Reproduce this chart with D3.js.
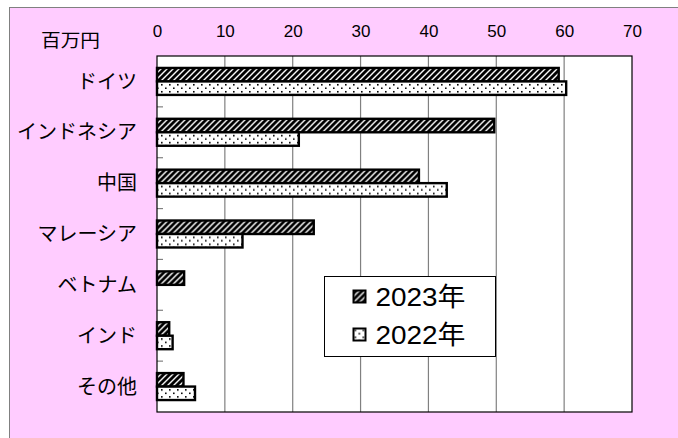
<!DOCTYPE html>
<html>
<head>
<meta charset="utf-8">
<script src="https://cdn.jsdelivr.net/npm/d3@7"></script>
<style>
  body { margin: 0; background: #fff; }
  svg { display: block; }
</style>
</head>
<body>
<div id="chart"></div>
<script>
const categories = ['ドイツ', 'インドネシア', '中国', 'マレーシア', 'ベトナム', 'インド', 'その他'];
const series = ['2023年', '2022年'];
const values2023 = [59.2, 49.7, 38.6, 23.1, 4.0, 1.8, 3.9];
const values2022 = [60.3, 20.9, 42.7, 12.6, 0, 2.3, 5.6];
const xTicks = [0, 10, 20, 30, 40, 50, 60, 70];
const unitLabel = '百万円';

const width = 678, height = 438;
const plot = { left: 157, top: 56, right: 632, bottom: 412 };
const latin = "'Liberation Sans', Arial, 'Noto Sans CJK JP', sans-serif";
const jp = "'Noto Sans CJK JP', sans-serif";

const data = categories.map((c, i) => ({ cat: c, vals: [values2023[i], values2022[i]] }));

const svg = d3.select('#chart').append('svg')
  .attr('width', width).attr('height', height);

// patterns
const defs = svg.append('defs');
const hatch = defs.append('pattern')
  .attr('id', 'hatch').attr('patternUnits', 'userSpaceOnUse')
  .attr('width', 6).attr('height', 6);
hatch.append('rect').attr('width', 6).attr('height', 6).attr('fill', '#000');
hatch.append('path')
  .attr('d', 'M-1,7 L7,-1 M-4,4 L4,-4 M2,10 L10,2')
  .attr('stroke', '#fff').attr('stroke-width', 1.4);

const dots = defs.append('pattern')
  .attr('id', 'dots').attr('patternUnits', 'userSpaceOnUse')
  .attr('width', 8).attr('height', 7);
dots.append('rect').attr('width', 8).attr('height', 7).attr('fill', '#fff');
dots.append('rect').attr('x', 1).attr('y', 2).attr('width', 1.6).attr('height', 1.6).attr('fill', '#000');
dots.append('rect').attr('x', 5).attr('y', 5.5).attr('width', 1.6).attr('height', 1.6).attr('fill', '#000');

const fills = ['url(#hatch)', 'url(#dots)'];

// background panel
svg.append('rect')
  .attr('x', 9.5).attr('y', 7.5)
  .attr('width', width).attr('height', height)
  .attr('fill', '#ffccff').attr('stroke', '#808080').attr('stroke-width', 1);

// scales
const x = d3.scaleLinear().domain([0, 70]).range([plot.left, plot.right]);
const y0 = d3.scaleBand().domain(categories).range([plot.top, plot.bottom])
  .paddingInner(0.47).paddingOuter(0.235);
const y1 = d3.scaleBand().domain(series).range([0, y0.bandwidth()]);

// plot area
svg.append('rect')
  .attr('x', plot.left).attr('y', plot.top)
  .attr('width', plot.right - plot.left).attr('height', plot.bottom - plot.top)
  .attr('fill', '#fff');

// grid lines
svg.append('g').selectAll('line')
  .data(xTicks.slice(1, -1))
  .join('line')
  .attr('x1', d => x(d)).attr('x2', d => x(d))
  .attr('y1', plot.top).attr('y2', plot.bottom)
  .attr('stroke', '#808080').attr('stroke-width', 1.2);

// category boundary ticks
const step = (plot.bottom - plot.top) / categories.length;
svg.append('g').selectAll('line')
  .data(d3.range(1, categories.length))
  .join('line')
  .attr('x1', plot.left).attr('x2', plot.left + 6)
  .attr('y1', i => plot.top + i * step).attr('y2', i => plot.top + i * step)
  .attr('stroke', '#808080').attr('stroke-width', 1.2);

// plot border
svg.append('rect')
  .attr('x', plot.left).attr('y', plot.top)
  .attr('width', plot.right - plot.left).attr('height', plot.bottom - plot.top)
  .attr('fill', 'none').attr('stroke', '#000').attr('stroke-width', 1.2);

// x axis on top
const xAxis = d3.axisTop(x).tickValues(xTicks).tickSize(0).tickPadding(0);
const gx = svg.append('g')
  .attr('transform', `translate(0, 37)`)
  .call(xAxis);
gx.select('.domain').remove();
gx.selectAll('text')
  .attr('dy', 0)
  .style('font-family', latin).style('font-size', '17px').attr('fill', '#000');

// y axis labels
const yAxis = d3.axisLeft(y0).tickSize(0).tickPadding(0);
const gy = svg.append('g')
  .attr('transform', `translate(137, 0)`)
  .call(yAxis);
gy.select('.domain').remove();
gy.selectAll('text')
  .attr('dy', '0.36em')
  .style('font-family', jp).style('font-size', '20px').attr('fill', '#000');

// unit label
svg.append('text')
  .text(unitLabel)
  .attr('x', 41).attr('y', 47)
  .attr('textLength', 59).attr('lengthAdjust', 'spacingAndGlyphs')
  .style('font-family', jp).style('font-size', '18px')
  .attr('fill', '#000');

// bars
const groups = svg.append('g').selectAll('g')
  .data(data)
  .join('g')
  .attr('transform', d => `translate(0, ${y0(d.cat)})`);

groups.selectAll('rect')
  .data(d => d.vals.map((v, i) => ({ v, s: series[i], i })).filter(e => e.v > 0))
  .join('rect')
  .attr('x', x(0))
  .attr('y', e => y1(e.s))
  .attr('width', e => x(e.v) - x(0))
  .attr('height', y1.bandwidth())
  .attr('fill', e => fills[e.i])
  .attr('stroke', '#000').attr('stroke-width', 2.4);

// legend
const legend = svg.append('g').attr('transform', 'translate(324.5, 276.5)');
legend.append('rect')
  .attr('width', 171).attr('height', 80)
  .attr('fill', '#fff').attr('stroke', '#000').attr('stroke-width', 1);

const items = legend.selectAll('g.item')
  .data(series)
  .join('g').attr('class', 'item')
  .attr('transform', (d, i) => `translate(29, ${20 + i * 38})`);
items.append('rect')
  .attr('x', 0).attr('y', -6)
  .attr('width', 12).attr('height', 12)
  .attr('fill', (d, i) => fills[i])
  .attr('stroke', '#000').attr('stroke-width', 2);
items.append('text')
  .text(d => d)
  .attr('x', 22).attr('y', 0).attr('dy', '0.36em')
  .attr('textLength', 90).attr('lengthAdjust', 'spacingAndGlyphs')
  .style('font-family', latin).style('font-size', '26px')
  .attr('fill', '#000');
</script>
</body>
</html>
